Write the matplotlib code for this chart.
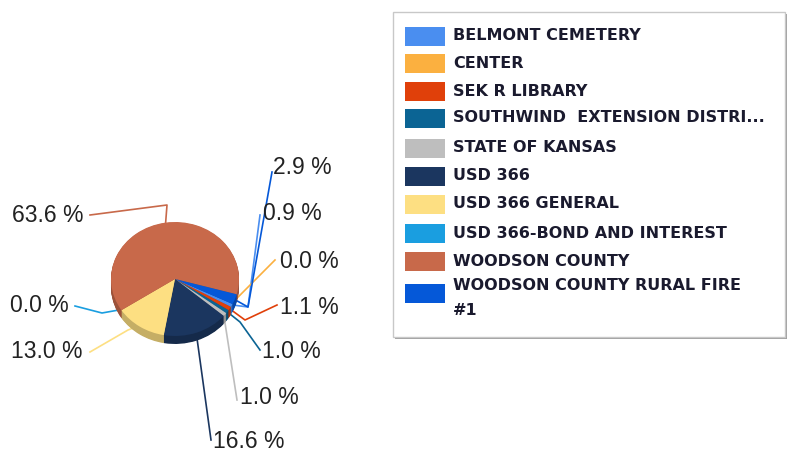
import matplotlib.pyplot as plt
from matplotlib.patches import Rectangle
import matplotlib.colors as mcolors
import numpy as np

names = ['BELMONT CEMETERY', 'CENTER', 'SEK R LIBRARY',
         'SOUTHWIND  EXTENSION DISTRI...', 'STATE OF KANSAS', 'USD 366',
         'USD 366 GENERAL', 'USD 366-BOND AND INTEREST', 'WOODSON COUNTY',
         'WOODSON COUNTY RURAL FIRE\n#1']
share = [0.9, 0.0, 1.1, 1.0, 1.0, 16.6, 13.0, 0.0, 63.6, 2.9]
colors = ['#4a8ef0', '#fbb040', '#e0400a', '#0b6494', '#bebebe', '#1b365f',
          '#fddf82', '#1a9ee0', '#c8694a', '#0558d8']

# label text position (pixels), line end near text, optional elbow
label_pos = [(263, 214), (280, 261), (280, 308), (262, 352), (240, 397),
             (213, 441), (83, 352), (69, 305), (84, 215), (273, 168)]
line_end = [(260, 215), (275, 260), (277, 305), (260, 350), (237, 400),
            (211, 440), (90, 352), (75, 306), (90, 215), (272, 172)]
elbow = [(248, 307), None, (245, 320), (240, 322), None,
         None, (128, 330), (102, 313), (167, 205), (248, 307)]

fig = plt.figure(figsize=(7.89, 4.51), dpi=100)
ov = fig.add_axes([0, 0, 1, 1])
ov.set_xlim(0, 789)
ov.set_ylim(451, 0)
ov.axis('off')

# pie centre (175, 279) px, radii 64 x 57 px
ax = fig.add_axes([95/789, 100.75/451, 160/789, 142.5/451])
start = -26
depth = 0.14
for d in np.linspace(depth, 0.01, 12):
    dark = [np.array(mcolors.to_rgb(c)) * 0.78 for c in colors]
    ax.pie(share, colors=dark, startangle=start, counterclock=False,
           center=(0, -d), normalize=True)
wedges, _ = ax.pie(share, colors=colors, startangle=start, counterclock=False,
                   normalize=True)
ax.set_aspect('auto')
ax.set_xlim(-1.25, 1.25)
ax.set_ylim(-1.25, 1.25)
ax.axis('off')


def to_px(x, y):
    p = ax.transData.transform((x, y))
    return ov.transData.inverted().transform(p)


for i, w in enumerate(wedges):
    mid = np.deg2rad((w.theta1 + w.theta2) / 2)
    x0, y0 = to_px(0.97*np.cos(mid), 0.97*np.sin(mid))
    pts = [(x0, y0)]
    if elbow[i] is not None:
        pts.append(elbow[i])
    pts.append(line_end[i])
    xs, ys = zip(*pts)
    ov.plot(xs, ys, color=colors[i], lw=1.2, zorder=1)
    lx, ly = label_pos[i]
    ha = 'right' if lx < 175 else 'left'
    ov.text(lx, ly, f'{share[i]:.1f} %', ha=ha, va='center',
            fontsize=16.5, family='Liberation Sans', color='#222222')

# legend
ov.add_patch(Rectangle((395, 14), 392, 325, facecolor='#a0a0a0',
                       edgecolor='none', zorder=2))
ov.add_patch(Rectangle((393, 12), 392, 325, facecolor='white',
                       edgecolor='#c8c8c8', lw=1, zorder=3))
rows = [36, 63, 91, 118, 148, 176, 204, 233, 261, 298]
for name, c, yc in zip(names, colors, rows):
    py = yc - 5 if '\n' in name else yc
    ov.add_patch(Rectangle((405, py - 9.5), 40, 19, facecolor=c,
                           edgecolor='none', zorder=4))
    ov.text(453, yc, name, ha='left', va='center', fontsize=11.5,
            fontweight='bold', color='#1a1a2e', linespacing=1.8, zorder=5)

fig.savefig('out.png', dpi=100)
